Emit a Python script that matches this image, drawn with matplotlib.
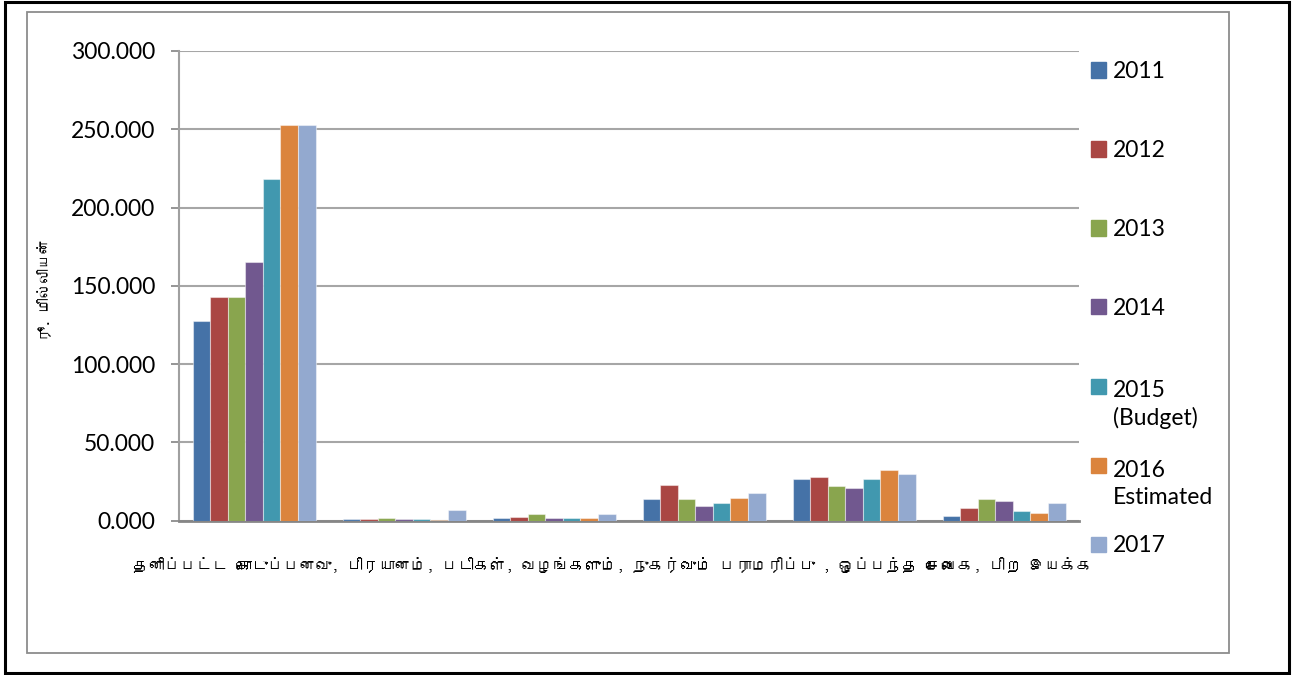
import numpy as np
import matplotlib
matplotlib.use("Agg")
import matplotlib.pyplot as plt
from matplotlib import font_manager
from matplotlib.ft2font import FT2Font
from matplotlib.patches import Rectangle

# ---------------- data ----------------
categories = ["தனிப்பட்ட கொடுப்பனவு", "பிரயானம்", "படிகள், வழங்களும், நுகர்வும்",
              "பராமரிப்பு", "ஒப்பந்த சேவைக", "பிற இயக்க"]
x_title = "தனிப்பட்ட கொடுப்பனவு, பிரயானம், படிகள், வழங்களும், நுகர்வும் பராமரிப்பு , ஒப்பந்த சேவைக, பிற இயக்க"
y_title = "ரூ. மில்லியன்"
series_labels = ["2011", "2012", "2013", "2014", "2015\n(Budget)", "2016\nEstimated", "2017"]
v2011 = [127.3, 1.0, 1.7, 14.0, 26.4, 2.8]
v2012 = [142.6, 1.2, 2.6, 23.0, 28.0, 7.9]
v2013 = [142.6, 1.5, 4.3, 13.8, 22.4, 13.6]
v2014 = [165.0, 1.2, 2.0, 9.4, 20.9, 12.3]
v2015 = [218.1, 1.2, 2.0, 11.3, 26.4, 6.4]
v2016 = [252.7, 0.5, 1.5, 14.7, 32.4, 4.7]
v2017 = [252.7, 7.0, 4.3, 17.9, 30.0, 11.6]
series_values = [v2011, v2012, v2013, v2014, v2015, v2016, v2017]
y_ticks = [0, 50, 100, 150, 200, 250, 300]
y_ticklabels = ["0.000", "50.000", "100.000", "150.000", "200.000", "250.000", "300.000"]
colors = ["#4572A7", "#AA4643", "#89A54E", "#71588F", "#4198AF", "#DB843D", "#93A9CF"]

# ---------------- fonts ----------------
def find_font(ch):
    for f in font_manager.fontManager.ttflist:
        try:
            if ord(ch) in FT2Font(f.fname).get_charmap():
                return f.name
        except Exception:
            pass
    return None

tamil_font = find_font("த")
tamil_family = ([tamil_font] if tamil_font else []) + ["DejaVu Sans"]
latin_family = ["Lato", "DejaVu Sans"]
plt.rcParams["font.family"] = latin_family

W, H = 1309, 675
fig = plt.figure(figsize=(W / 100, H / 100), dpi=100)

def fx(x):
    return x / W

def fy(y):
    return 1 - y / H

# frames
fig.patches.append(Rectangle((fx(5), fy(673)), fx(1289) - fx(5), fy(2) - fy(673),
                             transform=fig.transFigure, fill=False, ec="black", lw=2.2))
fig.patches.append(Rectangle((fx(27), fy(653)), fx(1229) - fx(27), fy(12) - fy(653),
                             transform=fig.transFigure, fill=False, ec="#8c8c8c", lw=1.3))

ax = fig.add_axes([fx(179), fy(520.7), fx(1079) - fx(179), fy(51) - fy(520.7)])

n = len(series_values)
group_w = 0.82
bw = group_w / n
xs = np.arange(len(categories))
for i, (vals, c) in enumerate(zip(series_values, colors)):
    ax.bar(xs - group_w / 2 + bw * (i + 0.5), vals, width=bw, color=c,
           edgecolor=(1, 1, 1, 0.45), linewidth=0.8, zorder=3)

ax.set_xlim(-0.5, len(categories) - 0.5)
ax.set_ylim(0, 300)
ax.set_yticks(y_ticks)
ax.set_yticklabels(y_ticklabels, fontsize=16.5, family=latin_family)
ax.set_xticks([])
ax.yaxis.grid(True, color="#a6a6a6", lw=1.5, zorder=0)
ax.set_axisbelow(True)
ax.tick_params(axis="y", direction="out", length=6, width=1.3, color="#8c8c8c", pad=11)
for s in ["top", "right"]:
    ax.spines[s].set_visible(False)
ax.spines["left"].set_color("#a0a0a0")
ax.spines["left"].set_linewidth(1.5)
ax.spines["bottom"].set_color("#868686")
ax.spines["bottom"].set_linewidth(2.0)

# axis titles
fig.text(fx(613), fy(565), x_title, ha="center", va="center", fontsize=11.4,
         fontweight="bold", family=tamil_family)
fig.text(fx(45), fy(290), y_title, ha="center", va="center", rotation=90,
         fontsize=10.5, family=tamil_family)

# legend (manual, uniform spacing as in reference)
line_px = 31
for i, (lab, c) in enumerate(zip(series_labels, colors)):
    yc = 70 + 79 * i
    nlines = lab.count("\n") + 1
    fig.patches.append(Rectangle((fx(1091), fy(yc + 7.5)), fx(15), 15 / H,
                                 transform=fig.transFigure, color=c))
    fig.text(fx(1113), fy(yc + 8 + (nlines - 1) * line_px), lab, ha="left",
             va="baseline", fontsize=16.5, linespacing=1.35, family=latin_family)

fig.savefig("out.png", dpi=100)
